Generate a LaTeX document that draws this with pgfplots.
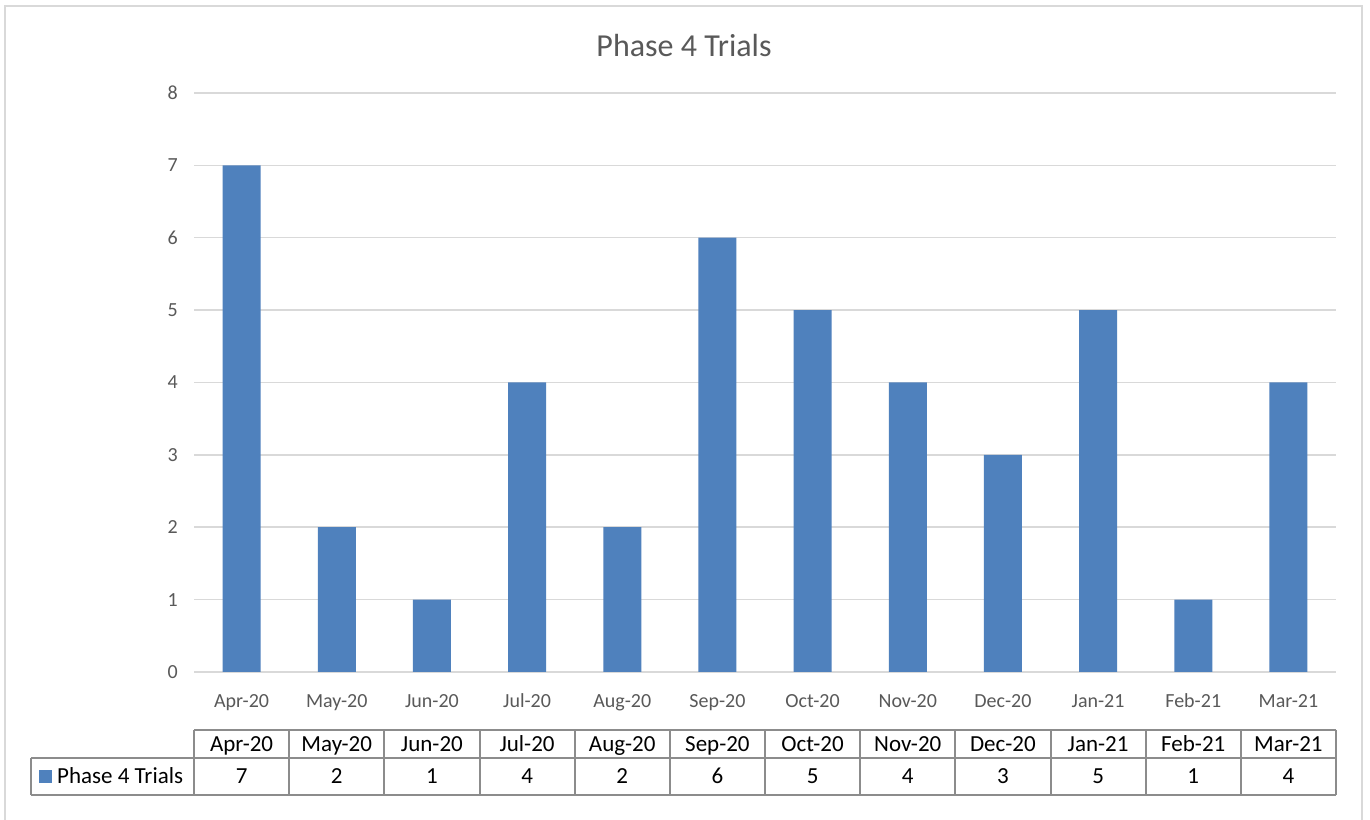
\documentclass[border=0pt]{standalone}
\usepackage{pgfplots}
\pgfplotsset{compat=1.18}
\usepackage{fontspec}
\setmainfont{Carlito}
\definecolor{barblue}{HTML}{4F81BD}
\definecolor{gridgray}{HTML}{D9D9D9}
\definecolor{txtgray}{HTML}{595959}
\definecolor{tblgray}{HTML}{8C8C8C}
\begin{document}
\begin{tikzpicture}[x=1pt,y=1pt]
\useasboundingbox (0,0) rectangle (1370,819);
\fill[white] (0,0) rectangle (1370,819);
\draw[gridgray, line width=2.5pt] (5,-5) -- (5,813) -- (1362,813) -- (1362,-5);
\begin{axis}[
  at={(194pt,147pt)}, anchor=south west,
  scale only axis, width=1142pt, height=579pt,
  xmin=-0.5, xmax=11.5, ymin=0, ymax=8,
  ytick={0,1,...,8},
  ymajorgrids, grid style={gridgray, line width=1.5pt},
  axis lines*=left,
  y axis line style={draw=none},
  x axis line style={gridgray, line width=1.5pt},
  ytick style={draw=none},
  xtick=data,
  xticklabels={Apr-20,May-20,Jun-20,Jul-20,Aug-20,Sep-20,Oct-20,Nov-20,Dec-20,Jan-21,Feb-21,Mar-21},
  xtick style={draw=none},
  extra x ticks={-0.5,0.5,1.5,2.5,3.5,4.5,5.5,6.5,7.5,8.5,9.5,10.5,11.5},
  extra x tick labels={},
  extra x tick style={tick style={draw=gridgray, line width=1.5pt}, major tick length=7pt, tick align=outside, grid=none},
  /pgf/number format/assume math mode=true,
  yticklabel style={font=\fontsize{20}{24}\selectfont, text=txtgray, anchor=east, inner sep=0pt, xshift=-16pt},
  xticklabel style={font=\fontsize{20}{24}\selectfont, text=txtgray, anchor=base, inner sep=0pt, yshift=-31pt},
  ybar, bar width=38pt,
]
\addplot[fill=barblue, draw=none] coordinates {
(0,7) (1,2) (2,1) (3,4) (4,2) (5,6) (6,5) (7,4) (8,3) (9,5) (10,1) (11,4)
};
\end{axis}
\node[text=txtgray, font=\fontsize{32}{38}\selectfont] at (684,773) {Phase 4 Trials};
\def\cw{95.1667}
\foreach \m [count=\i from 0] in {Apr-20,May-20,Jun-20,Jul-20,Aug-20,Sep-20,Oct-20,Nov-20,Dec-20,Jan-21,Feb-21,Mar-21} {
  \node[anchor=base, inner sep=0pt, font=\fontsize{23}{28}\selectfont] at ({194+\cw*\i+\cw/2}, 67) {\m};
}
\foreach \v [count=\i from 0] in {7,2,1,4,2,6,5,4,3,5,1,4} {
  \node[anchor=base, inner sep=0pt, font=\fontsize{23}{28}\selectfont] at ({194+\cw*\i+\cw/2}, 35) {\v};
}
\draw[tblgray, line width=2pt] (194,89) -- (1336,89);
\draw[tblgray, line width=2pt] (31,61) -- (1336,61);
\draw[tblgray, line width=2pt] (31,24) -- (1336,24);
\draw[tblgray, line width=2pt] (31,61) -- (31,24);
\foreach \i in {0,...,12} {
  \draw[tblgray, line width=2pt] ({194+\cw*\i}, 89) -- ({194+\cw*\i}, 24);
}
\fill[barblue] (39,36) rectangle (52,49);
\node[anchor=base west, inner sep=0pt, font=\fontsize{23}{28}\selectfont] at (57,35) {Phase 4 Trials};
\end{tikzpicture}
\end{document}
